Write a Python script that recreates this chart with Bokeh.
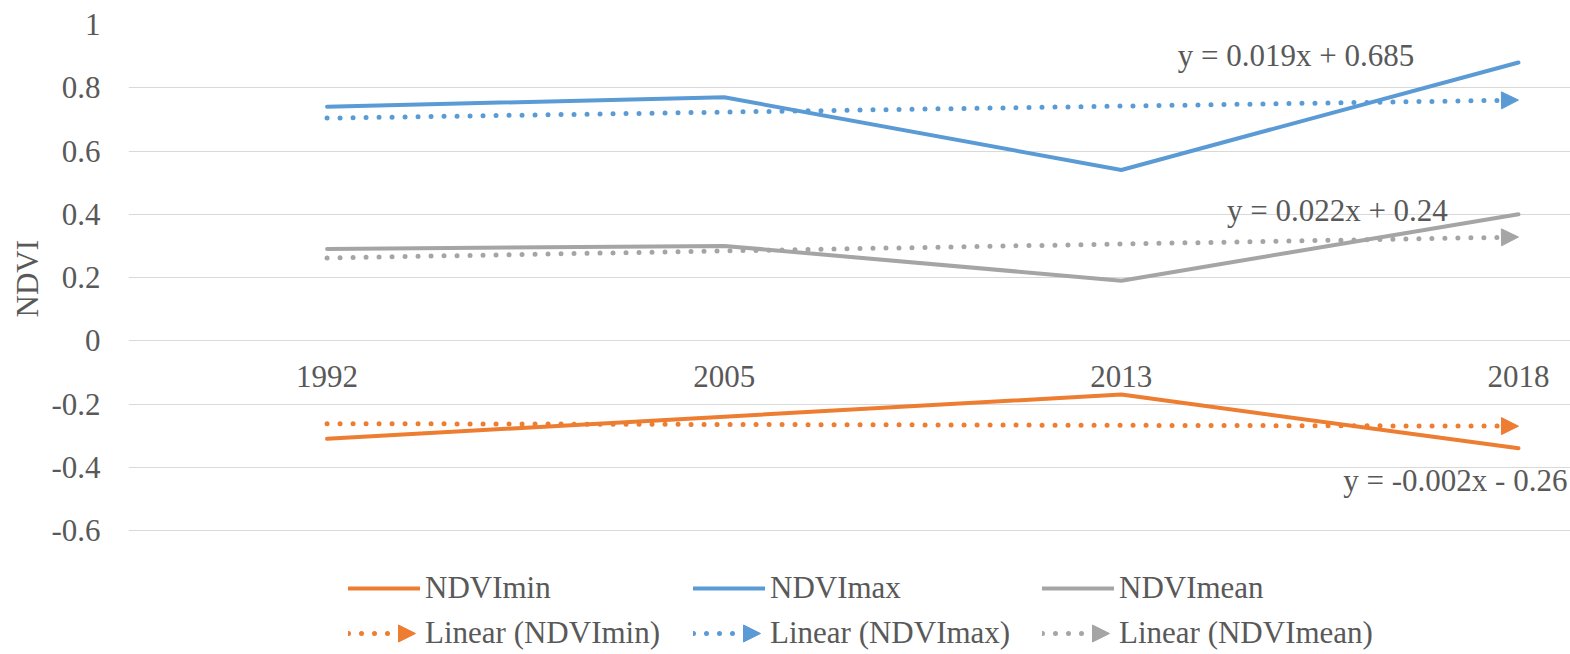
import numpy as np
from bokeh.plotting import figure
from bokeh.models import (Range1d, FixedTicker, Legend, LegendItem, Label,
                          Arrow, NormalHead, Title)
from bokeh.core.properties import value
from bokeh.embed import file_html
from bokeh.resources import INLINE

# ---------------- data ----------------
years = ["1992", "2005", "2013", "2018"]
ndvi_min = [-0.31, -0.24, -0.17, -0.34]
ndvi_max = [0.74, 0.77, 0.54, 0.88]
ndvi_mean = [0.29, 0.30, 0.19, 0.40]
trend_min = [-0.262, -0.27]
trend_max = [0.704, 0.761]
trend_mean = [0.262, 0.328]
eq_min = "y = -0.002x - 0.26"
eq_max = "y = 0.019x + 0.685"
eq_mean = "y = 0.022x + 0.24"
y_ticks = [-0.6, -0.4, -0.2, 0, 0.2, 0.4, 0.6, 0.8, 1]
y_tick_labels = ["-0.6", "-0.4", "-0.2", "0", "0.2", "0.4", "0.6", "0.8", "1"]
y_title = "NDVI"
x_axis_crossing = 0

# ---------------- style ----------------
ORANGE = "#ED7D31"
BLUE = "#5B9BD5"
GRAY = "#A5A5A5"
TXT = "#595959"
GRID = "#D9D9D9"
FONT = "Liberation Serif"
FS = "31px"

xs = list(range(len(years)))
trend_x = [xs[0], xs[-1]]

p = figure(width=1570, height=654,
           x_range=Range1d(-0.5, 3.131), y_range=Range1d(-0.992, 1.0),
           output_backend="svg", toolbar_location=None,
           x_axis_location=None,
           min_border_left=128, min_border_right=0,
           min_border_top=24, min_border_bottom=0)
p.outline_line_color = None
p.background_fill_color = "white"
p.border_fill_color = "white"

# grid
p.xgrid.visible = False
p.ygrid.ticker = FixedTicker(ticks=y_ticks)
p.ygrid.grid_line_color = GRID
p.ygrid.grid_line_width = 1

# y axis
ya = p.yaxis[0]
ya.ticker = FixedTicker(ticks=y_ticks)
ya.major_label_overrides = dict(zip(y_ticks, y_tick_labels))
ya.axis_line_color = None
ya.major_tick_line_color = None
ya.minor_tick_line_color = None
ya.major_tick_out = 0
ya.major_tick_in = 0
ya.major_label_standoff = 28
ya.major_label_text_font = FONT
ya.major_label_text_font_size = FS
ya.major_label_text_color = TXT

# y-axis title, centred on the -0.6 .. 1 span (not on the whole frame)
p.add_layout(Title(text=y_title, align="left", offset=337,
                   vertical_align="top",
                   text_font=FONT, text_font_size=FS,
                   text_font_style="normal", text_color=TXT,
                   standoff=4), "left")

# category labels beneath the horizontal axis (which crosses at 0)
p.text(x=xs, y=[x_axis_crossing] * len(xs), text=years,
       text_align="center", text_baseline="top", y_offset=25,
       text_font=value(FONT), text_font_size=FS, text_color=TXT)

series = [
    ("NDVImin", ndvi_min, trend_min, ORANGE),
    ("NDVImax", ndvi_max, trend_max, BLUE),
    ("NDVImean", ndvi_mean, trend_mean, GRAY),
]

solid_r = []
for name, vals, tr, col in series:
    r = p.line(xs, vals, line_color=col, line_width=4,
               line_join="round", line_cap="round")
    solid_r.append(r)

trend_r = []
for name, vals, tr, col in series:
    r = p.line(trend_x, tr, line_color=col, line_width=5,
               line_dash="0 13", line_cap="round")
    trend_r.append(r)
    p.add_layout(Arrow(x_start=trend_x[0], y_start=tr[0],
                       x_end=trend_x[-1], y_end=tr[-1],
                       line_alpha=0,
                       end=NormalHead(size=17, fill_color=col, line_color=col,
                                      line_width=1)))

# equation labels
for txt, x, y in [(eq_max, 2.44, 0.901), (eq_mean, 2.544, 0.411),
                  (eq_min, 2.841, -0.443)]:
    p.add_layout(Label(x=x, y=y, text=txt, text_align="center",
                       text_baseline="middle", text_font=FONT,
                       text_font_size=FS, text_color=TXT))

# legend: three columns x two rows, below the plotted area
col_x = [220, 565, 914]       # frame-relative px
row1_y, row2_y = 48, 3
item_h = 36
for i, (name, vals, tr, col) in enumerate(series):
    common = dict(orientation="vertical", padding=0, margin=0,
                  border_line_color=None, background_fill_alpha=0,
                  glyph_height=item_h, label_height=item_h,
                  label_text_font=FONT, label_text_font_size=FS,
                  label_text_color=TXT, label_text_baseline="middle")
    l1 = Legend(items=[LegendItem(label=name, renderers=[solid_r[i]])],
                location=(col_x[i], row1_y), glyph_width=72,
                label_standoff=5, **common)
    l2 = Legend(items=[LegendItem(label=f"Linear ({name})", renderers=[trend_r[i]])],
                location=(col_x[i], row2_y), glyph_width=50,
                label_standoff=27, **common)
    p.add_layout(l1)
    p.add_layout(l2)
    yc = row2_y + item_h / 2
    p.add_layout(Arrow(x_start=col_x[i] + 50, y_start=yc,
                       x_end=col_x[i] + 67, y_end=yc,
                       start_units="screen", end_units="screen",
                       line_alpha=0,
                       end=NormalHead(size=17, fill_color=col, line_color=col,
                                      line_width=1)))

open("out.html", "w").write(file_html(p, INLINE))
